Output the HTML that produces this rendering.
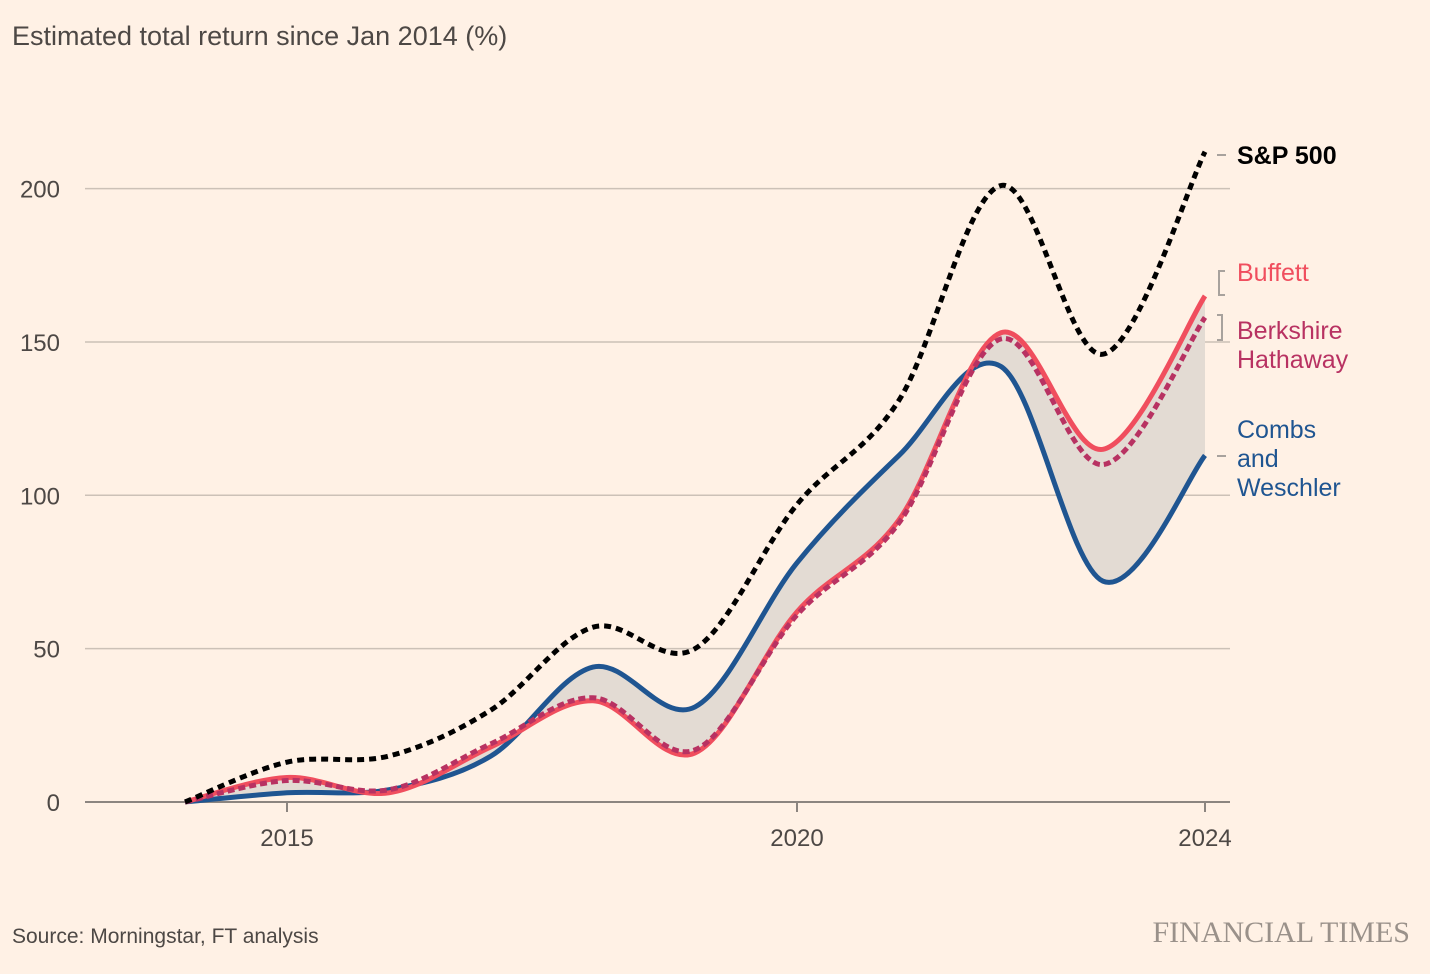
<!DOCTYPE html>
<html><head><meta charset="utf-8"><style>
body{margin:0;background:#fff1e5;font-family:"Liberation Sans",sans-serif;}
svg{display:block}
</style></head><body>
<svg id="chart" width="1430" height="974">
<text x="12" y="45" font-size="27" fill="#4d4845">Estimated total return since Jan 2014 (%)</text>
<g id="grid"></g><g id="area"></g><g id="lines"></g><g id="labels"></g>
<text x="12" y="943" font-size="21" fill="#4d4845">Source: Morningstar, FT analysis</text>
<text x="1410" y="942" font-size="30" text-anchor="end" fill="#9a918a" font-family="Liberation Serif,serif">FINANCIAL TIMES</text>
</svg>
<script>
const years=[2014,2015,2016,2017,2018,2019,2020,2021,2022,2023,2024];
const sp500=[0,13,15,30,57,50,97,131,201,146,212];
const buffett=[0,8,3,18,33,16,62,92,153,115,165];
const berkshire=[0,7,4,19,34,17,61,91,151,110,158];
const combs=[0,3,4,15,44,31,78,113,142,72,113];
const yTicks=[0,50,100,150,200];
const xTicks=[2015,2020,2024];
const X=y=>185+(y-2014)*102;
const Y=v=>802-v*3.067;
const NS="http://www.w3.org/2000/svg";
function mk(t,a,p){const e=document.createElementNS(NS,t);for(const k in a)e.setAttribute(k,a[k]);if(p)p.appendChild(e);return e;}
function segs(p){let d='';
for(let i=0;i<p.length-1;i++){const p0=p[i-1]||p[i],p1=p[i],p2=p[i+1],p3=p[i+2]||p2;
d+=` C${p1[0]+(p2[0]-p0[0])/6},${p1[1]+(p2[1]-p0[1])/6} ${p2[0]-(p3[0]-p1[0])/6},${p2[1]-(p3[1]-p1[1])/6} ${p2[0]},${p2[1]}`;}return d;}
function curve(vals){const p=vals.map((v,i)=>[X(years[i]),Y(v)]);return `M${p[0][0]},${p[0][1]}`+segs(p);}
const g=document.getElementById('grid');
yTicks.forEach(t=>{const l=mk('line',{x1:85,x2:1230,y1:Y(t),y2:Y(t),stroke:t===0?'#8c8580':'#ccc1b7','stroke-width':t===0?2:1.5},g);

const tx=mk('text',{x:60,y:Y(t)+9,'font-size':24,fill:'#4d4845','text-anchor':'end'},g);tx.textContent=t;
});
xTicks.forEach(t=>{const l=mk('line',{x1:X(t),x2:X(t),y1:802,y2:812,stroke:'#8c8580','stroke-width':2},g);

const tx=mk('text',{x:X(t),y:846,'font-size':24,fill:'#4d4845','text-anchor':'middle'},g);tx.textContent=t;
});
const bp=buffett.map((v,i)=>[X(years[i]),Y(v)]).reverse();
const ad=curve(combs)+` L${bp[0][0]},${bp[0][1]}`+segs(bp)+'Z';
const ar=mk('path',{d:ad,fill:'#e3dbd3'},document.getElementById('area'));

const L=document.getElementById('lines');
const series=[[combs,'#1f5591',null,'combs-line'],[buffett,'#f04e5e',null,'buffett-line'],[berkshire,'#b83262','7 4','berkshire-line'],[sp500,'#000','7 5','sp500-line']];
series.forEach(s=>{const p=mk('path',{d:curve(s[0]),fill:'none',stroke:s[1],'stroke-width':5},L);if(s[2])p.setAttribute('stroke-dasharray',s[2]);
});
const Lb=document.getElementById('labels');
[['S&P 500','#000',164,['M1217,155 L1226,155']],['Buffett','#f04e5e',281,['M1225,271 L1219,271 L1219,295 L1225,295']],
['Berkshire','#b83262',339,['M1217,315 L1222,315 L1222,340 L1217,340']],['Hathaway','#b83262',368,[]],
['Combs','#1f5591',438,['M1217,456 L1226,456']],['and','#1f5591',467,[]],['Weschler','#1f5591',496,[]]].forEach(r=>{
const t=mk('text',{x:1237,y:r[2],'font-size':25,fill:r[1],'font-weight':r[0]==='S&P 500'?'bold':'normal'},Lb);t.textContent=r[0];

r[3].forEach(d=>{const p=mk('path',{d,fill:'none',stroke:'#a8a29d','stroke-width':2},Lb);});});
</script>
</body></html>
